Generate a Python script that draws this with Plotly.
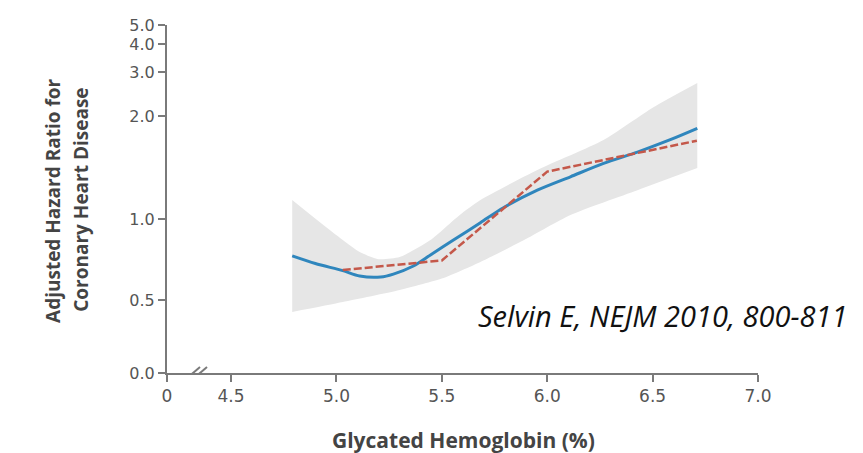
import numpy as np
import plotly.graph_objects as go

# ---------------- data ----------------
# Spline estimate (blue, solid)
spline_x = [4.79, 4.90, 5.03, 5.11, 5.21, 5.27, 5.365, 5.446, 5.555, 5.683, 5.79, 5.953, 6.11, 6.267, 6.428, 6.584, 6.712]
spline_hr = [0.772, 0.725, 0.681, 0.648, 0.642, 0.660, 0.710, 0.778, 0.870, 0.977, 1.107, 1.28, 1.41, 1.54, 1.65, 1.77, 1.88]

# Category estimates (red, dashed)
cat_x = [5.03, 5.5, 6.0, 6.71]
cat_hr = [0.685, 0.744, 1.46, 1.76]

# 95% confidence band
band_up_x = [4.79, 4.92, 5.03, 5.11, 5.20, 5.30, 5.446, 5.585, 5.683, 5.953, 6.267, 6.504, 6.712]
band_up_hr = [1.184, 0.981, 0.870, 0.796, 0.752, 0.765, 0.870, 1.039, 1.184, 1.476, 1.767, 2.20, 2.75]
band_lo_x = [4.79, 5.03, 5.30, 5.508, 5.683, 5.89, 6.11, 6.428, 6.712]
band_lo_hr = [0.418, 0.486, 0.562, 0.636, 0.735, 0.87, 1.039, 1.28, 1.495]

# axis ticks
x_tick_vals = [0.0, 4.5, 5.0, 5.5, 6.0, 6.5, 7.0]
x_tick_text = ["0", "4.5", "5.0", "5.5", "6.0", "6.5", "7.0"]
y_tick_vals = [0.0, 0.5, 1.0, 2.0, 3.0, 4.0, 5.0]
y_tick_text = ["0.0", "0.5", "1.0", "2.0", "3.0", "4.0", "5.0"]

# ---------------- axis scales (layout) ----------------
# the original uses a custom compressed vertical scale
Y_SCALE_POS = [0, 73, 154, 257, 301, 329, 348]
X_ZERO_POS = 4.196  # position where "0" sits before the axis break


def ty(v):
    return np.interp(np.asarray(v, dtype=float), y_tick_vals, Y_SCALE_POS)


def tx(v):
    v = np.asarray(v, dtype=float)
    return np.where(v < 4.5, X_ZERO_POS + (v / 4.5) * (4.5 - X_ZERO_POS), v)


AXIS_COLOR = "#7a7a7a"
Y_TICK_FONT = dict(family="DejaVu Sans, sans-serif", size=16, color="#555555")
X_TICK_FONT = dict(family="DejaVu Sans, sans-serif", size=17, color="#555555")
TITLE_FAMILY = "Open Sans, Lato, sans-serif"
BAND = "#e6e6e6"

fig = go.Figure()

# confidence band: lower edge, then upper edge filled down to it
fig.add_trace(go.Scatter(x=tx(band_lo_x), y=ty(band_lo_hr), mode="lines",
                         line=dict(width=0, color=BAND, shape="spline", smoothing=0.6),
                         hoverinfo="skip", showlegend=False))
fig.add_trace(go.Scatter(x=tx(band_up_x), y=ty(band_up_hr), mode="lines", fill="tonexty",
                         fillcolor=BAND,
                         line=dict(width=0, color=BAND, shape="spline", smoothing=0.6),
                         hoverinfo="skip", showlegend=False))

fig.add_trace(go.Scatter(x=tx(spline_x), y=ty(spline_hr), mode="lines",
                         line=dict(color="#2f86bd", width=3, shape="spline", smoothing=0.8),
                         showlegend=False))

fig.add_trace(go.Scatter(x=tx(cat_x), y=ty(cat_hr), mode="lines",
                         line=dict(color="#c4584a", width=2.5, dash="8px,3px"),
                         showlegend=False))

fig.update_layout(
    width=863, height=453,
    margin=dict(l=167, r=105, t=25, b=80),
    paper_bgcolor="white", plot_bgcolor="white",
    xaxis=dict(range=[X_ZERO_POS, 7.0], tickvals=list(tx(x_tick_vals)), ticktext=x_tick_text,
               showgrid=False, zeroline=False, showline=True, linecolor=AXIS_COLOR, linewidth=2,
               ticks="outside", ticklen=7, tickwidth=2, tickcolor=AXIS_COLOR,
               tickfont=X_TICK_FONT, fixedrange=True),
    yaxis=dict(range=[0, 348], tickvals=list(ty(y_tick_vals)), ticktext=y_tick_text,
               showgrid=False, zeroline=False, showline=True, linecolor=AXIS_COLOR, linewidth=2,
               ticks="outside", ticklen=7, tickwidth=2, tickcolor=AXIS_COLOR,
               tickfont=Y_TICK_FONT, fixedrange=True),
)

# axis break marks "//"
for off in (-3.5, 3.5):
    fig.add_shape(type="line", xref="x", yref="y", xsizemode="pixel", ysizemode="pixel",
                  xanchor=float(X_ZERO_POS + 0.14), yanchor=0,
                  x0=off - 7, y0=-6, x1=off + 7, y1=6,
                  line=dict(color=AXIS_COLOR, width=2))

fig.add_annotation(text="<b>Glycated Hemoglobin (%)</b>", xref="paper", yref="paper",
                   x=0.501, y=-0.193, xanchor="center", yanchor="middle", showarrow=False,
                   font=dict(family=TITLE_FAMILY, size=21, color="#444444"))
fig.add_annotation(text="<b>Adjusted Hazard Ratio for</b>",
                   xref="paper", yref="paper", x=-0.193, y=0.497, showarrow=False,
                   xanchor="center", yanchor="middle", textangle=-90,
                   font=dict(family=TITLE_FAMILY, size=19, color="#444444"))
fig.add_annotation(text="<b>Coronary Heart Disease</b>",
                   xref="paper", yref="paper", x=-0.146, y=0.497, showarrow=False,
                   xanchor="center", yanchor="middle", textangle=-90,
                   font=dict(family=TITLE_FAMILY, size=19, color="#444444"))
fig.add_annotation(text="<i>Selvin E, NEJM 2010, 800-811</i>", xref="paper", yref="paper",
                   x=1.156, y=0.164, xanchor="right", yanchor="middle", showarrow=False,
                   font=dict(family="Open Sans, Liberation Sans, sans-serif", size=29, color="#111111"))

fig.write_html("out.html")
